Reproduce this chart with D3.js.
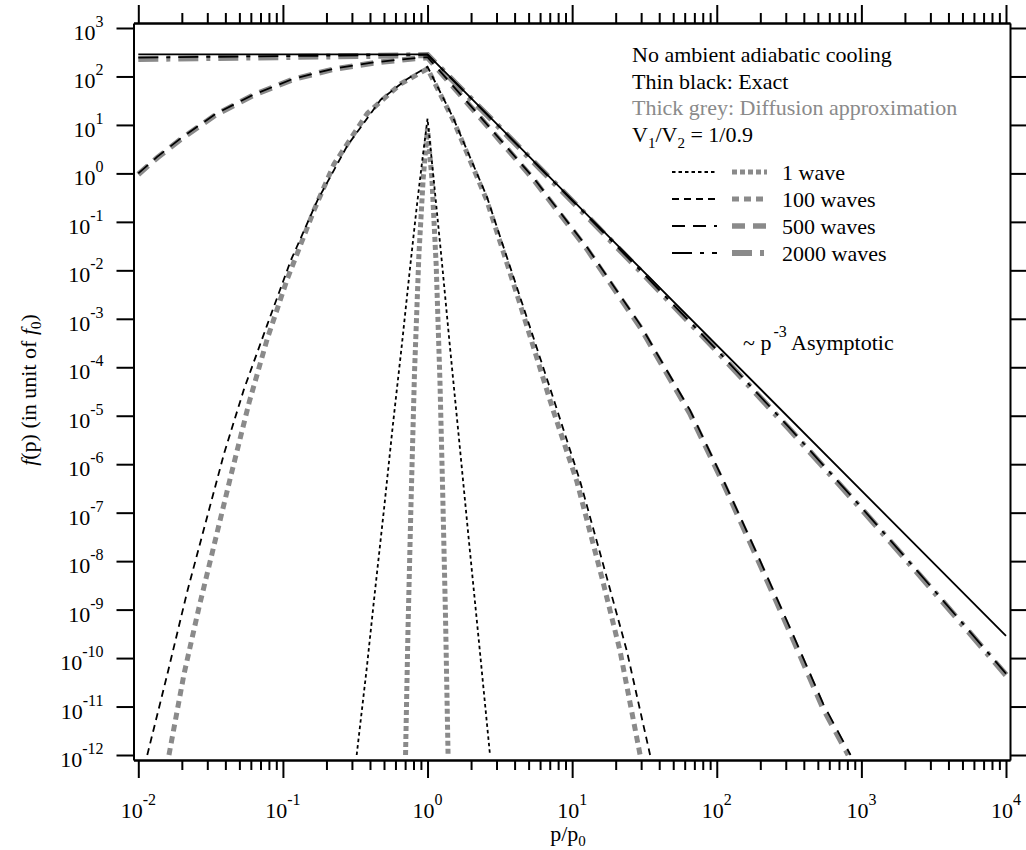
<!DOCTYPE html>
<html>
<head>
<meta charset="utf-8">
<script src="https://cdn.jsdelivr.net/npm/d3@7/dist/d3.min.js"></script>
<style>
  body { margin: 0; background: #fff; }
  svg text { fill: #000; }
</style>
</head>
<body>
<div class="chart"></div>
<script>
// values as [log10(p/p0), log10(f)]
const exact1 = [[-0.49,-12],[-0.42,-10.2],[-0.37,-8.8],[-0.3,-6.9],[-0.24,-5.2],[-0.178,-3.55],[-0.121,-1.95],
  [-0.075,-0.7],[-0.035,0.3],[0,1.13],[0.04,-0.05],[0.1,-1.85],[0.156,-3.61],[0.22,-5.55],[0.29,-7.7],[0.36,-9.8],[0.432,-12]];
const grey1 = [[-0.152,-12],[-0.135,-9.4],[-0.115,-6.9],[-0.09,-4.1],[-0.06,-1.7],[-0.03,-0.1],[0,0.93],
  [0.03,-0.1],[0.06,-1.9],[0.086,-4.3],[0.105,-6.6],[0.124,-9.1],[0.142,-12]];

const exact100 = [[-1.938,-12],[-1.799,-10.33],[-1.661,-8.62],[-1.534,-7.2],[-1.407,-5.78],[-1.269,-4.45],[-1.108,-3.12],
  [-0.946,-1.8],[-0.762,-0.56],[-0.555,0.57],[-0.324,1.52],[-0.14,1.95],[0,2.2],
  [0.178,1.14],[0.409,-0.47],[0.64,-2.55],[0.87,-4.64],[1.055,-6.35],[1.239,-8.33],[1.378,-9.85],[1.539,-12]];
const grey100 = [[-1.788,-12],[-1.684,-10.33],[-1.58,-8.95],[-1.476,-7.67],[-1.361,-6.25],[-1.234,-4.73],[-1.108,-3.41],
  [-0.97,-2.18],[-0.785,-0.76],[-0.647,0.19],[-0.416,1.24],[-0.185,1.85],[0,2.16],
  [0.178,1.1],[0.409,-0.55],[0.64,-2.7],[0.87,-4.9],[1.032,-6.35],[1.205,-8.33],[1.331,-9.85],[1.47,-12]];

const exact500 = [[-2,0],[-1.87,0.34],[-1.7,0.74],[-1.458,1.24],[-1.2,1.63],[-0.93,1.95],[-0.65,2.16],[-0.37,2.29],
  [-0.12,2.37],[0,2.4],[0.35,1.22],[0.732,-0.09],[1.1,-1.51],[1.47,-3.12],[1.814,-4.88],[2.046,-6.33],[2.277,-7.84],
  [2.507,-9.38],[2.737,-10.95],[2.925,-12]];
const grey500 = [[-2,-0.02],[-1.87,0.32],[-1.7,0.72],[-1.458,1.22],[-1.2,1.62],[-0.93,1.94],[-0.65,2.15],[-0.37,2.28],
  [-0.12,2.36],[0,2.39],[0.35,1.2],[0.732,-0.12],[1.1,-1.55],[1.47,-3.17],[1.814,-4.95],[2.046,-6.4],[2.277,-7.92],
  [2.507,-9.47],[2.737,-11.05],[2.91,-12]];

const exact2000 = [[-2,2.39],[-1,2.42],[0,2.45],[0.5,0.95],[1,-0.56],[1.5,-2.09],[2,-3.64],[2.5,-5.24],[3,-6.89],[3.5,-8.59],[4,-10.32]];
const grey2000 = [[-2,2.36],[-1,2.4],[0,2.44],[0.5,0.94],[1,-0.57],[1.5,-2.1],[2,-3.66],[2.5,-5.27],[3,-6.92],[3.5,-8.62],[4,-10.35]];

const asymptotic = [[-2,2.457],[0,2.457],[4,-9.543]];

const legendNames = ['1 wave', '100 waves', '500 waves', '2000 waves'];
const xTickExps = [-2, -1, 0, 1, 2, 3, 4];
const yTickExps = d3.range(3, -13, -1);

// styles kept apart from data
const styles = [
  { exact: exact1,    grey: grey1,    exactDash: '3.5,3',     greyDash: '5,3',       greyW: 5 },
  { exact: exact100,  grey: grey100,  exactDash: '7,5',       greyDash: '7,5',       greyW: 5 },
  { exact: exact500,  grey: grey500,  exactDash: '13,8',      greyDash: '13,8',      greyW: 5.5 },
  { exact: exact2000, grey: grey2000, exactDash: '20,8,4,8',  greyDash: '20,8,4,8',  greyW: 6 }
];
const GREY = '#8a8a8a';
const FONT = '"Liberation Serif", "Times New Roman", Times, serif';

const width = 1026, height = 850;
const svg = d3.select('.chart').append('svg').attr('width', width).attr('height', height)
  .attr('font-family', FONT);

const xScale = d3.scaleLog().domain([Math.pow(10, -2.0332), Math.pow(10, 4.0277)]).range([133.5, 1010]);
const yScale = d3.scaleLog().domain([Math.pow(10, -12.103), Math.pow(10, 3.103)]).range([760, 23]);
const x0 = xScale.range()[0], x1 = xScale.range()[1];
const y0 = yScale.range()[0], y1 = yScale.range()[1];

const majorX = xTickExps.map(e => Math.pow(10, e));
const minorX = [];
xTickExps.slice(0, -1).forEach(e => { for (let k = 2; k < 10; k++) minorX.push(k * Math.pow(10, e)); });
const majorY = yTickExps.map(e => Math.pow(10, e));

function styleAxis(g) {
  g.selectAll('path').attr('stroke', '#000').attr('stroke-width', 2);
  g.selectAll('line').attr('stroke', '#000').attr('stroke-width', 2);
}

// bottom + top axes
svg.append('g').attr('transform', `translate(0,${y0})`)
  .call(d3.axisBottom(xScale).tickValues(majorX).tickSize(18).tickSizeOuter(0).tickFormat(''))
  .call(styleAxis);
svg.append('g').attr('transform', `translate(0,${y0})`)
  .call(d3.axisBottom(xScale).tickValues(minorX).tickSize(10).tickSizeOuter(0).tickFormat(''))
  .call(styleAxis);
svg.append('g').attr('transform', `translate(0,${y1})`)
  .call(d3.axisTop(xScale).tickValues(majorX).tickSize(18).tickSizeOuter(0).tickFormat(''))
  .call(styleAxis);
svg.append('g').attr('transform', `translate(0,${y1})`)
  .call(d3.axisTop(xScale).tickValues(minorX).tickSize(10).tickSizeOuter(0).tickFormat(''))
  .call(styleAxis);
// left + right axes
svg.append('g').attr('transform', `translate(${x0},0)`)
  .call(d3.axisLeft(yScale).tickValues(majorY).tickSize(17).tickSizeOuter(0).tickFormat(''))
  .call(styleAxis);
svg.append('g').attr('transform', `translate(${x1},0)`)
  .call(d3.axisRight(yScale).tickValues(majorY).tickSize(17).tickSizeOuter(0).tickFormat(''))
  .call(styleAxis);

// tick labels 10^n
const xLab = svg.append('g').selectAll('text').data(xTickExps).enter().append('text')
  .attr('x', d => xScale(Math.pow(10, d))).attr('y', 818)
  .attr('text-anchor', 'middle').style('font-size', '22px');
xLab.append('tspan').text('10');
xLab.append('tspan').text(d => d).attr('dy', -13).style('font-size', '16px');

const yLab = svg.append('g').selectAll('text').data(yTickExps).enter().append('text')
  .attr('x', 103.5).attr('y', d => yScale(Math.pow(10, d)) + 12)
  .attr('text-anchor', 'end').style('font-size', '22px');
yLab.append('tspan').text('10');
yLab.append('tspan').text(d => d).attr('dy', -13).style('font-size', '16px');

// axis titles
const xt = svg.append('text').attr('x', 568).attr('y', 841).attr('text-anchor', 'middle').style('font-size', '22px');
xt.append('tspan').text('p/p');
xt.append('tspan').text('0').attr('dy', 5).style('font-size', '15px');

const yt = svg.append('text').attr('transform', 'translate(36,390) rotate(-90)')
  .attr('text-anchor', 'middle').style('font-size', '22px');
yt.append('tspan').text('f').style('font-style', 'italic');
yt.append('tspan').text('(p) (in unit of ');
yt.append('tspan').text('f').style('font-style', 'italic');
yt.append('tspan').text('0').attr('dy', 5).style('font-size', '15px');
yt.append('tspan').text(')').attr('dy', -5);

// curves
const lineGen = d3.line()
  .x(d => xScale(Math.pow(10, d[0])))
  .y(d => yScale(Math.pow(10, d[1])));

const curves = svg.append('g').attr('class', 'curves');
curves.selectAll('.grey').data(styles).enter().append('path')
  .attr('d', d => lineGen(d.grey))
  .attr('fill', 'none').attr('stroke', GREY)
  .attr('stroke-width', d => d.greyW).attr('stroke-dasharray', d => d.greyDash);
curves.append('path').attr('d', lineGen(asymptotic))
  .attr('fill', 'none').attr('stroke', '#000').attr('stroke-width', 1.8);
curves.selectAll('.exact').data(styles).enter().append('path')
  .attr('d', d => lineGen(d.exact))
  .attr('fill', 'none').attr('stroke', '#000')
  .attr('stroke-width', 1.8).attr('stroke-dasharray', d => d.exactDash);

// annotation text
const notes = svg.append('g').style('font-size', '22px');
notes.append('text').attr('x', 632).attr('y', 62).text('No ambient adiabatic cooling');
notes.append('text').attr('x', 632).attr('y', 88.5).text('Thin black: Exact');
notes.append('text').attr('x', 632).attr('y', 115).text('Thick grey: Diffusion approximation').style('fill', GREY);
const v = notes.append('text').attr('x', 632).attr('y', 141.5);
v.append('tspan').text('V');
v.append('tspan').text('1').attr('dy', 6).style('font-size', '15px');
v.append('tspan').text('/V').attr('dy', -6);
v.append('tspan').text('2').attr('dy', 6).style('font-size', '15px');
v.append('tspan').text(' = 1/0.9').attr('dy', -6);

const asy = notes.append('text').attr('x', 743).attr('y', 350);
asy.append('tspan').text('~ p');
asy.append('tspan').text('-3').attr('dy', -13).attr('dx', 2).style('font-size', '16px');
asy.append('tspan').text(' Asymptotic').attr('dy', 13);

// legend
const leg = svg.append('g').selectAll('g').data(styles).enter().append('g')
  .attr('transform', (d, i) => `translate(0,${172 + 27 * i})`);
leg.append('line').attr('x1', 672).attr('x2', 717).attr('y1', 0).attr('y2', 0)
  .attr('stroke', '#000').attr('stroke-width', 1.8).attr('stroke-dasharray', d => d.exactDash);
leg.append('line').attr('x1', 732).attr('x2', 767).attr('y1', 0).attr('y2', 0)
  .attr('stroke', GREY).attr('stroke-width', d => d.greyW).attr('stroke-dasharray', d => d.greyDash);
leg.append('text').attr('x', 782).attr('y', 8).style('font-size', '22px').text((d, i) => legendNames[i]);
</script>
</body>
</html>
